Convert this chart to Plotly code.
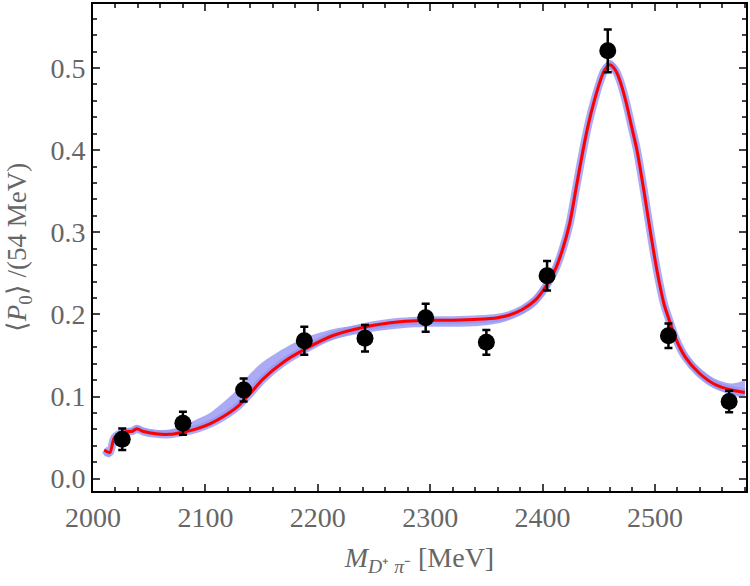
import plotly.graph_objects as go

# Data points (54 MeV bins)
mass = [2026, 2080, 2134, 2188, 2242, 2296, 2350, 2404, 2458, 2512, 2566]
p0 = [0.048, 0.0675, 0.108, 0.168, 0.171, 0.196, 0.166, 0.247, 0.521, 0.174, 0.094]
p0_err = [0.013, 0.014, 0.014, 0.017, 0.016, 0.017, 0.015, 0.018, 0.026, 0.015, 0.013]

# Fit curve (red) and uncertainty band (blue)
curve_x = [2010, 2015, 2019, 2027, 2035, 2039, 2045, 2056, 2068, 2080, 2092, 2104,
           2116, 2128, 2140, 2151, 2169, 2189, 2213, 2243, 2273, 2300, 2320, 2343,
           2360, 2370, 2382, 2394, 2405, 2412, 2418, 2424, 2430, 2436, 2441, 2446,
           2451, 2455, 2460, 2465, 2469, 2474, 2479, 2484, 2490, 2496, 2502, 2508,
           2512, 2518, 2527, 2539, 2553, 2568, 2580]
curve_y = [0.035, 0.032, 0.050, 0.0566, 0.0578, 0.0607, 0.0574, 0.0546, 0.054, 0.0566,
           0.0607, 0.0667, 0.0756, 0.087, 0.104, 0.121, 0.1415, 0.158, 0.174, 0.185,
           0.191, 0.193, 0.193, 0.194, 0.196, 0.199, 0.206, 0.218, 0.2386, 0.257,
           0.280, 0.310, 0.355, 0.400, 0.433, 0.460, 0.483, 0.497, 0.504, 0.497,
           0.484, 0.460, 0.430, 0.400, 0.352, 0.300, 0.252, 0.213, 0.196, 0.172,
           0.148, 0.129, 0.115, 0.108, 0.105]
band_lo = [0.028, 0.026, 0.044, 0.052, 0.055, 0.057, 0.054, 0.052, 0.052, 0.054,
           0.058, 0.064, 0.073, 0.084, 0.101, 0.118, 0.139, 0.155, 0.169, 0.178,
           0.183, 0.185, 0.185, 0.186, 0.189, 0.193, 0.200, 0.211, 0.230, 0.249,
           0.272, 0.300, 0.343, 0.388, 0.423, 0.452, 0.476, 0.491, 0.498, 0.491,
           0.477, 0.452, 0.420, 0.389, 0.340, 0.288, 0.242, 0.205, 0.189, 0.166,
           0.142, 0.124, 0.110, 0.102, 0.098]
band_hi = [0.037, 0.034, 0.052, 0.060, 0.062, 0.065, 0.062, 0.059, 0.060, 0.064,
           0.072, 0.080, 0.093, 0.108, 0.128, 0.142, 0.158, 0.172, 0.182, 0.188,
           0.193, 0.195, 0.195, 0.196, 0.198, 0.202, 0.210, 0.224, 0.246, 0.266,
           0.291, 0.322, 0.368, 0.412, 0.443, 0.468, 0.490, 0.504, 0.510, 0.504,
           0.491, 0.468, 0.440, 0.412, 0.364, 0.312, 0.262, 0.222, 0.204, 0.179,
           0.155, 0.136, 0.122, 0.116, 0.120]

x_ticks = [2000, 2100, 2200, 2300, 2400, 2500]
y_ticks = [0.0, 0.1, 0.2, 0.3, 0.4, 0.5]

FONT = "Liberation Serif"
GRAY = "#666666"
BAND = "rgba(150,150,242,0.8)"

fig = go.Figure()
fig.add_trace(go.Scatter(x=curve_x, y=band_lo, mode="lines",
                         line=dict(width=0, shape="spline", smoothing=0.8),
                         showlegend=False, hoverinfo="skip"))
fig.add_trace(go.Scatter(x=curve_x, y=band_hi, mode="lines",
                         line=dict(width=0, shape="spline", smoothing=0.8),
                         fill="tonexty", fillcolor=BAND,
                         showlegend=False, hoverinfo="skip"))
# band thickness halo along the fit
fig.add_trace(go.Scatter(x=curve_x, y=curve_y, mode="lines",
                         line=dict(color=BAND, width=8, shape="spline", smoothing=0.8),
                         showlegend=False, hoverinfo="skip"))
fig.add_trace(go.Scatter(x=curve_x, y=curve_y, mode="lines",
                         line=dict(color="#ff0000", width=3, shape="spline", smoothing=0.8),
                         showlegend=False))
fig.add_trace(go.Scatter(x=mass, y=p0, mode="markers",
                         marker=dict(color="black", size=17),
                         error_y=dict(type="data", array=p0_err, color="black", thickness=2.5, width=4),
                         showlegend=False))

axis_common = dict(
    showline=True, linecolor="black", linewidth=2, mirror="allticks",
    ticks="inside", ticklen=7, tickwidth=1.5, tickcolor="#444444",
    showgrid=False, zeroline=False,
    tickfont=dict(family=FONT, size=28, color=GRAY),
)

fig.update_layout(
    width=750, height=586,
    margin=dict(l=93, r=3, t=2, b=95),
    plot_bgcolor="white", paper_bgcolor="white",
    xaxis=dict(range=[2000, 2581], tickvals=x_ticks,
               minor=dict(ticks="inside", ticklen=4, tickcolor="#444444", dtick=20, tick0=2000),
               title=dict(text="<i>M</i><sub><i>D</i>⁺ <i>π</i>⁻</sub> [MeV]",
                          font=dict(family=FONT, size=28, color=GRAY), standoff=16),
               **axis_common),
    yaxis=dict(range=[-0.015, 0.578], tickvals=y_ticks, tickformat=".1f",
               minor=dict(ticks="inside", ticklen=4, tickcolor="#444444", dtick=0.02, tick0=0),
               title=dict(text="⟨<i>P</i><sub>0</sub>⟩ /(54 MeV)",
                          font=dict(family=FONT, size=27, color=GRAY), standoff=16),
               **axis_common),
)

fig.write_html("out.html")
